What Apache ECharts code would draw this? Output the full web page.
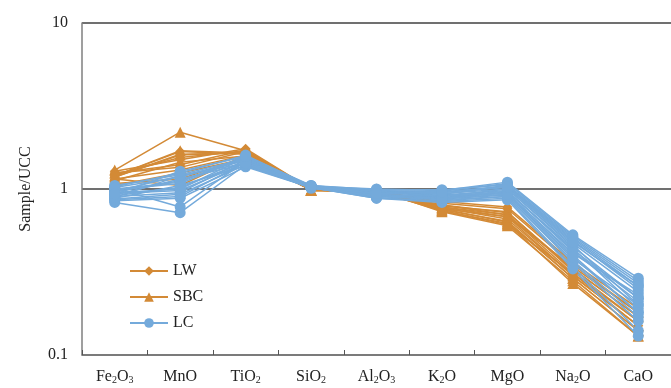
<!DOCTYPE html>
<html>
<head>
<meta charset="utf-8">
<script src="https://cdn.jsdelivr.net/npm/echarts@6/dist/echarts.min.js"></script>
<style>
  html, body { margin: 0; padding: 0; background: #fff; }
  #chart { width: 671px; height: 388px; }
</style>
</head>
<body>
<div id="chart"></div>
<script>
// oxide categories (rich text for subscripts)
var categories = ['Fe2O3', 'MnO', 'TiO2', 'SiO2', 'Al2O3', 'K2O', 'MgO', 'Na2O', 'CaO'];
var categoryLabels = ['Fe{s|2}O{s|3}', 'MnO', 'TiO{s|2}', 'SiO{s|2}', 'Al{s|2}O{s|3}', 'K{s|2}O', 'MgO', 'Na{s|2}O', 'CaO'];
var yTicks = [0.1, 1, 10];

// Sample/UCC ratios, one row per sample
var lwSamples = [
  [1.22, 1.55, 1.70, 1.00, 0.97, 0.80, 0.72, 0.33, 0.17],
  [1.18, 1.62, 1.65, 0.99, 0.96, 0.78, 0.70, 0.31, 0.16],
  [1.25, 1.40, 1.72, 1.00, 0.98, 0.82, 0.76, 0.35, 0.18],
  [1.15, 1.30, 1.60, 0.99, 0.95, 0.76, 0.68, 0.30, 0.15],
  [1.28, 1.50, 1.75, 1.00, 0.97, 0.84, 0.78, 0.36, 0.19],
  [1.20, 1.68, 1.62, 0.99, 0.96, 0.79, 0.73, 0.32, 0.16]
];
var sbcSamples = [
  [1.30, 2.20, 1.70, 0.98, 1.00, 0.74, 0.62, 0.27, 0.13],
  [1.20, 1.70, 1.65, 0.98, 0.97, 0.75, 0.64, 0.29, 0.14],
  [1.12, 1.45, 1.58, 0.99, 0.96, 0.77, 0.66, 0.30, 0.15],
  [1.25, 1.35, 1.68, 0.98, 0.99, 0.73, 0.60, 0.28, 0.13],
  [1.08, 1.15, 1.55, 0.99, 0.95, 0.80, 0.70, 0.33, 0.17],
  [1.15, 1.05, 1.60, 0.98, 0.98, 0.76, 0.63, 0.29, 0.14],
  [1.05, 1.25, 1.52, 0.99, 0.94, 0.78, 0.68, 0.34, 0.18],
  [1.18, 1.60, 1.66, 0.98, 0.97, 0.74, 0.61, 0.31, 0.15]
];
var lcSamples = [
  [0.83, 0.72, 1.40, 1.02, 0.88, 0.85, 0.90, 0.36, 0.16],
  [0.86, 0.90, 1.45, 1.03, 0.90, 0.88, 0.95, 0.40, 0.18],
  [0.90, 0.95, 1.50, 1.04, 0.92, 0.90, 1.00, 0.45, 0.22],
  [0.95, 1.00, 1.55, 1.03, 0.95, 0.95, 1.05, 0.50, 0.26],
  [1.00, 1.10, 1.58, 1.05, 0.97, 0.97, 1.08, 0.52, 0.28],
  [1.03, 1.25, 1.60, 1.04, 1.00, 0.98, 1.10, 0.53, 0.29],
  [0.88, 1.05, 1.38, 1.02, 0.89, 0.84, 0.88, 0.34, 0.14],
  [0.92, 1.15, 1.42, 1.01, 0.91, 0.87, 0.92, 0.38, 0.20],
  [0.97, 1.20, 1.48, 1.03, 0.94, 0.92, 0.98, 0.42, 0.21],
  [1.05, 1.22, 1.52, 1.04, 0.98, 0.96, 1.02, 0.47, 0.24],
  [0.85, 0.88, 1.36, 1.02, 0.88, 0.83, 0.86, 0.33, 0.13],
  [0.94, 0.98, 1.44, 1.03, 0.93, 0.89, 0.96, 0.44, 0.19],
  [0.99, 1.08, 1.56, 1.04, 0.96, 0.93, 1.04, 0.49, 0.25],
  [1.02, 1.18, 1.50, 1.05, 0.99, 0.99, 1.06, 0.51, 0.27],
  [0.87, 0.93, 1.40, 1.02, 0.90, 0.86, 0.90, 0.37, 0.17],
  [0.91, 1.02, 1.46, 1.03, 0.92, 0.91, 0.94, 0.41, 0.23],
  [0.96, 1.12, 1.53, 1.04, 0.95, 0.94, 1.00, 0.46, 0.20],
  [1.01, 0.78, 1.47, 1.03, 0.97, 0.90, 0.97, 0.43, 0.22],
  [0.89, 1.20, 1.43, 1.02, 0.91, 0.88, 0.93, 0.39, 0.18],
  [0.93, 1.28, 1.57, 1.04, 0.94, 0.96, 1.03, 0.48, 0.26]
];

var orange = '#D38A36';
var blue = '#74AADB';
var serif = '"Liberation Serif", "Times New Roman", serif';

// one line series per sample, all sharing the group name so the legend shows one item
function makeSeries(rows, name, color, symbol, size) {
  return rows.map(function (row) {
    return {
      name: name,
      type: 'line',
      data: row,
      symbol: symbol,
      symbolSize: size,
      showSymbol: true,
      itemStyle: { color: color },
      lineStyle: { color: color, width: 1.5 },
      emphasis: { disabled: true }
    };
  });
}

var series = []
  .concat(makeSeries(lwSamples, 'LW', orange, 'diamond', 10))
  .concat(makeSeries(sbcSamples, 'SBC', orange, 'triangle', 11))
  .concat(makeSeries(lcSamples, 'LC', blue, 'circle', 11));

var option = {
  animation: false,
  grid: { left: 82, top: 23, right: 0, bottom: 33 },
  legend: {
    data: ['LW', 'SBC', 'LC'],
    orient: 'vertical',
    left: 124,
    top: 258,
    itemWidth: 38,
    itemHeight: 12,
    itemGap: 10,
    textStyle: { fontFamily: serif, fontSize: 16, color: '#222', lineHeight: 12, padding: [0, 0, 0, 0] }
  },
  xAxis: {
    type: 'category',
    data: categories,
    boundaryGap: true,
    axisLine: { lineStyle: { color: '#7f7f7f', width: 1.5 } },
    axisTick: { show: true, inside: true, length: 5, lineStyle: { color: '#555' } },
    axisLabel: {
      interval: 0,
      margin: 14,
      color: '#222',
      fontFamily: serif,
      fontSize: 16,
      formatter: function (v, i) { return categoryLabels[i]; },
      rich: {
        s: { fontSize: 10, fontFamily: serif, color: '#222', verticalAlign: 'bottom', lineHeight: 10 }
      }
    },
    splitLine: { show: false }
  },
  yAxis: {
    type: 'log',
    logBase: 10,
    min: yTicks[0],
    max: yTicks[yTicks.length - 1],
    name: 'Sample/UCC',
    nameLocation: 'middle',
    nameGap: 48,
    nameTextStyle: { fontFamily: serif, fontSize: 16, color: '#222' },
    axisLine: { show: true, lineStyle: { color: '#7f7f7f', width: 1.5 } },
    axisTick: { show: false },
    axisLabel: { margin: 14, color: '#222', fontFamily: serif, fontSize: 16 },
    splitLine: { show: true, lineStyle: { color: '#707070', width: 2 } }
  },
  series: series
};

var myChart = echarts.init(document.getElementById('chart'));
myChart.setOption(option);
</script>
</body>
</html>
